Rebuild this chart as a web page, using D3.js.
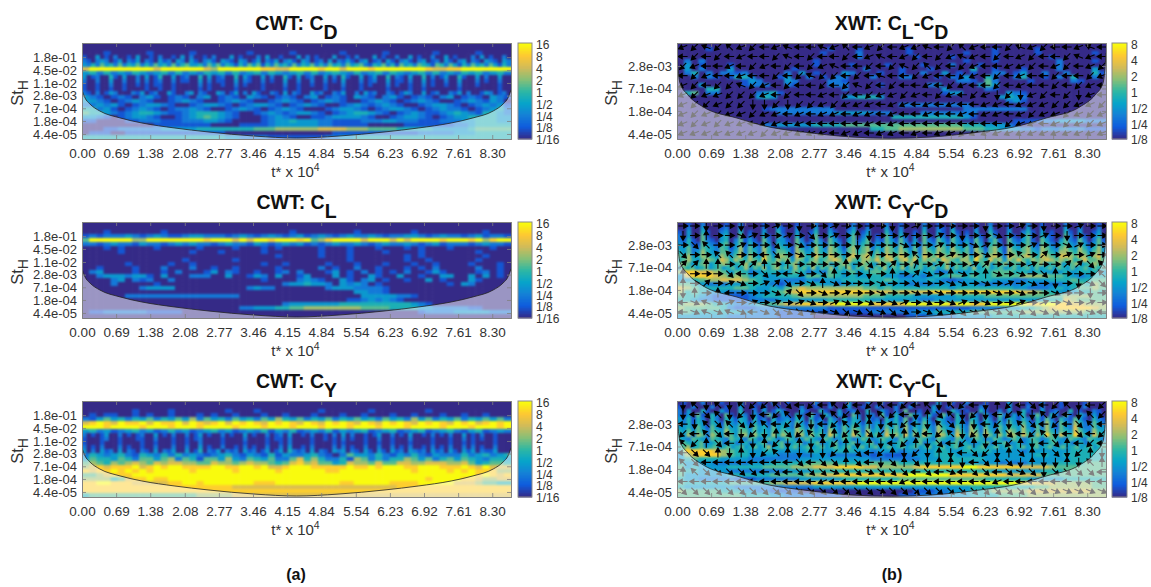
<!DOCTYPE html>
<html>
<head>
<meta charset="utf-8">
<script src="https://cdn.jsdelivr.net/npm/d3@7"></script>
<style>
  html, body { margin: 0; background: #fff; }
  text { font-family: "Liberation Sans", Arial, sans-serif; fill: #333; }
</style>
</head>
<body>
<div id="chart"></div>
<script>
// tick labels
const xTicks = [0.00, 0.69, 1.38, 2.08, 2.77, 3.46, 4.15, 4.84, 5.54, 6.23, 6.92, 7.61, 8.30];
const cwtStTicks = [1.8e-1, 4.5e-2, 1.1e-2, 2.8e-3, 7.1e-4, 1.8e-4, 4.4e-5];
const xwtStTicks = [2.8e-3, 7.1e-4, 1.8e-4, 4.4e-5];
const cwtBarTicks = ['16', '8', '4', '2', '1', '1/2', '1/4', '1/8', '1/16'];
const xwtBarTicks = ['8', '4', '2', '1', '1/2', '1/4', '1/8'];

// cone of influence, t* x 10^4 against St_H
const coiT = [0, 0.06, 0.16, 0.36, 0.77, 1.21, 1.88, 2.55, 3.5, 4.34, 5.18, 6.13, 6.8, 7.47, 7.91, 8.32, 8.52, 8.62, 8.68];
const cwtCoiSt = [5.2e-3, 2.2e-3, 1.13e-3, 5.3e-4, 2.5e-4, 1.45e-4, 8.4e-5, 5.5e-5, 3.5e-5, 2.85e-5, 3.5e-5, 5.5e-5, 8.4e-5, 1.45e-4, 2.5e-4, 5.3e-4, 1.13e-3, 2.2e-3, 5.2e-3];
const xwtCoiT = [0, 0.02, 0.06, 0.22, 0.53, 1.21, 1.88, 2.55, 3.5, 4.34, 5.18, 6.13, 6.8, 7.47, 8.15, 8.46, 8.62, 8.66, 8.68];
const xwtCoiSt = [6.2e-3, 2.5e-3, 9.9e-4, 4.8e-4, 2.3e-4, 1.17e-4, 6.7e-5, 5e-5, 3.7e-5, 3.4e-5, 3.7e-5, 5e-5, 6.7e-5, 1.17e-4, 2.3e-4, 4.8e-4, 9.9e-4, 2.5e-3, 6.2e-3];

// power levels, one digit per cell (0 = bottom of the
// colour bar, 9 = top), one string per row from the top of the plot.
// A row may have any length: busy rows simply carry more cells
const powerCd = [
  '0',
  '0',
  '000100000100000100000001000001000000100000100000010000010000',
  '100301020010300102001030200102000301000203001000302010003001020003010020030100200301000203010020',
  '210232013021302103120320310231032103201302130231032012030213102301203102310230120310230210321032',
  '324253425243524253425245334253524314253514253425243524253425345214352415342543154253142534253142',
  '799999999979999997699999988779999899799989999999877889999999',
  '342423243234242324342423424323424234324234243234242324342342',
  '301200410300203014003012004030120040310030200410301200302041003013004021030040201300410030200300',
  '200200300200202012002011003020110030210020100300200200201030002012003011020030100200300020100200',
  '100100200100101011001000002010010020100010000200100100100020001010002010010020100100200010000100',
  '100100100100001001001000001010000010000010000100100000100010001000001000010010000000100000000100',
  '210201320002130120031002302100320130203100210302100312002130020312002101320030120021302001320120',
  '321012102310121023012103210121023012103210231012102301210321',
  '332101232100123210012321001232101232100123210123210012321320',
  '223231012332100123321012332101232100123212321001233210123231',
  '442310123210122321001232101232100012332101233210123221012342',
  '544321234432112344432100123212332101234432101232112343214432',
  '332101233210012345432100012321001123333210012332101233444433',
  '110000112221112223321000012334333221111222332221112223344433',
  '000000000011111111000011112333333221111100000111111122344444',
  '000112222223333344444444555666666777766655554444433333455555',
  '011100111111111111110000000000000001111111111112222233344444',
  '444444444444444444443322221111111122334444444444444444444444'
];
const powerCl = [
  '0',
  '0',
  '000100000001000000000000000001000000001000000010000000001000',
  '121222321232112332221232123212312321232232122332123221231221',
  '599999966999999998999797998999895689999799979799998999896899',
  '221232213221232322123221321232312123223212322321231222123221',
  '000101000010000010000100010100000100010001000101000100000100',
  '000001000000000100010000010000000100010000100001000000010000',
  '000000000000000000000000000100000100010000000101000000001000',
  '000000000000001000000100000000000000010000000100100000010000',
  '000000100000100100000000010010000010001000100010010000100010',
  '001000010002000200100100000100000201002001000101020000020010',
  '023000010001020001302100100120200013010201010200131000012010',
  '002333233103000222003001320300130003010031003001003300303010',
  '000023021200200000000000010000232100310230100100301000310000',
  '000020000010000000000000000023343320323201000000000103200000',
  '000000002333300000000002322000000023332222100000000000000000',
  '000000000000000000000000000000000000003322100000000000000000',
  '000000222222222222222200000000000000000333332210000000000000',
  '000000000000000000000000000000000000011232321000000000000000',
  '000000000000000000000000000023333333444444444432100000000000',
  '000000000000000000000022333445566666666555544443322222110000',
  '011222222111110000000000000000000000000000000001222233333222',
  '0'
];
const powerCy = [
  '0',
  '0',
  '000000010000100000001000100000000100000010000000100000000000',
  '010110010100100010100100010010001000100100010010001001001000',
  '213534243524353625342534253643524352435342534263524352435352',
  '789879889798897987897989879898798798987987989879898798978989',
  '999899998999899989999899989998999899989998999899998999899989',
  '342312342312423123423123241324123241323412341234123421341232',
  '201013002010120030102002013010020100301002012030010200102030200101300201030010201020030102001000',
  '100012001000110020001001012000010000200001011020000100101020100100200100020000100010020101001000',
  '100010001000010010001001002000010000100001001020000100001010000100100100010000100010010100001000',
  '201020002010010020002002003010020010201002002030010200002020100200200201020010201020020201002000',
  '302031203021021030213003014021302120312013013042120302103230210310310312032120312031031302113000',
  '243234214324242321234213214132234210253324213242132224234234',
  '354435425535625415536325435225746422416524244653524535432443',
  '565465676576776655766567665457867553476657557766777667534554',
  '678788897898998888998899897789998888898898999889998889879777',
  '878898989899999899999899999899999988999999999989999898988866',
  '556788899999999999999999999999999999999999999999999999989878',
  '666645788988999999999999999999999999999999999999899998876677',
  '889988877777889989999999888999999999889999988889999977765544',
  '888888888888888888888777777777777777777777778888888888888888',
  '8',
  '455555555555555566666777777777777777777777777777777777777777'
];
const powerCdl = [
  '0',
  '000010000000000000000100010000001000000000001000001000000000',
  '000000000000000000001000020000001000000010001000001000000010',
  '000000000000000000000000020000000100001000001000000010000000',
  '020200000000000000010000000000000000000010001000000002000010',
  '030100010000000000010000100001000010002000100000000002000000',
  '030200030000000010000000002000010001000004001000100002000030',
  '024020221200000203010003200010010020030101002201300200200041',
  '002021014420001300201022000200022000102130042002400102040020',
  '000000000132000320000221000000000000000221052000010000021000',
  '000300000122200210000222000010000002300000353000000000000000',
  '000044000000000000000002000000000000030000021000000000000000',
  '045022000002341000000000000000000000013300000032100000000000',
  '000000000003430000000003344430000000000000000343200000000000',
  '000000000000000000000000000000000000000000000023100000000000',
  '000000000000000000000000000000022222222220000000000000000000',
  '000000000000122222222200000000000000000022222222200000000000',
  '000000000000002222222233333222000022222222000000000000000000',
  '000000000000000000000000000000444444444431000000000000000000',
  '000000000000000000000000000000000000000000000001111223333222',
  '000000000000223333344445555555555555555544433321000000000000',
  '000000000000000000000000000445566666666655544333221222222111',
  '0',
  '0'
];
const powerCyd = [
  '0010020000100200001002000100020010000200100020010000200100200001002000100020010000200100010',
  '0020030001200300002003100200030020001300200030020000300210300002003000200030020000300200020',
  '1030041002300401003004100300140031002401300041030010400310410103004100300241030100410300130',
  '2030051003400502004105200410150042003502401052041020510420520204105200410351042100520410240',
  '2141052103402513105203310520152053103513502153152030521531531315203510521351053103521520251',
  '3241153214503514215304320531253154204524513254253141532542532415304520532452154214532531352',
  '3352254325413625326415431642364265315635624365364252643653643526415631643563265325643642463',
  '4352364325524625426425541653364365425645635365465352654654654526525641654564365436654653563',
  '5463465436535736437536652764475476536756746476576463765765765637636752765675476547765764674',
  '4564356547646546548546563653564567647546657567467574656476546648547563657546567656564575565',
  '565345634565345645634563456345654634565346543654635463546354635456345635463546345634563456345654',
  '354534534534534635463564536453635463546354635463546354534534635453634534534534535345354353453545',
  '688776535423443354232543534554434434224334445554434333434443',
  '378887656534334443554543433443322323445545445555666655432344',
  '334566777654332222323334444445433334321233443332233344454455',
  '554322233444321233443323343443332222333333222222332222345465',
  '765444445543343567666666665545444444443444444443322234345565',
  '645433322233345678888888888777677778888888888888776543334454',
  '544321111123444456666666665554444333333444455555555555666655',
  '443221111122223333333444444333333322333333333333333344765555',
  '566654432234556778888899999888889999998998899999988998877666',
  '655555421112222222222111111111111111111112222233445678888876',
  '554444444332221111111111111222222333444445555555666666666555',
  '333333322222221111100000000000001112222333334444444444444444'
];
const powerCyl = [
  '0100020001000300010020010000020010003000200100020010000300100200010000300010020001000010000',
  '1002000200100300102001000020010020003001002000200200003001002000210000300020020001000020000',
  '2030041003100400203014200031004100301200400310205001003100420100410020300410030120040100210',
  '2130510420510420310520310420510420310520320510410532041052041052041052031402510420510420310',
  '3241420420431430412041231430412042041430412042415031420431042043042041431420415204215310421',
  '3241430431532431423142342531523143142431423143425142531532143153143142532531426315326421532',
  '3342531532533542534253432642524253253542524253526243532643253264253253543632526315327422533',
  '4353542543643553534353543653534264253652634264536253642653264265264253653642536425437532643',
  '4362652653653663645364653763645375364753745375647364753764375376375364764753648537548643754',
  '4325432543254325423542354235432542354235423543254325432543254235423542354235423543254325432',
  '454345234523423423452345234523452345234523452342345234523452345243234523452342345234523423423454',
  '456345345345345345346345345345345345345345345345345345345345345345345345345345345345345345345345',
  '488887654433443333443344433233323233443344443333233333344444',
  '367888654433332222233222222121112333444333333333334433444444',
  '345444333322222223333333333222222233344444433333333333344444',
  '433332222233344444555544444555544444444433333222233334444555',
  '534333344444555566677788887766666788888899888888777765555555',
  '544333322222222333344444444444444444444444443333333444555555',
  '533333344444455555667788888888889999998888888877777555555555',
  '433222221112222223333334444444455555555555544444433333444444',
  '544444455555566777788888899999999999999999999999887776666655',
  '433333332222222222233333333333333333333334444444445566666655',
  '655555444332211110000000000000000111223334456666677777777766',
  '555555555444433222211110000000011122223334444555566666666666'
];

// phase arrow direction per grid point, hex digit in 22.5 degree steps
// counter-clockwise from east, one string per row from the top
const arrowsCdl = [
  '9a7a69a8978879689a89978a6988a79a88978',
  '8a8a8988a78a88a89789a8a9798a89a88a798',
  'a98898a98a8a9788a8a7a6a8a98899a89a89a',
  '8a988988a8a7aa8a8788a988a98a8988a88a9',
  '9a8aa7a98a88a8a7a8a8898a988a8988a8a98',
  '9a99aaa98a8898a8a99a98a98a9cac9a8ac98',
  '9aa9aaccacaa9a999899898988998999aa99a',
  '9a9a99a99898998998988988989989a99a9a9',
  '9a9a998998988888989888888888a9989a9a9',
  '9999999a9999989989989899a999999999999'
];
const arrowsCyd = [
  '00c00c0010c0010000c0100000c0010c00100',
  'c0400f10010e0104c0010010c00f00010c000',
  '0e600100e0f0000c000f00100f1000100f100',
  'e0066008e0f0000c2000600100f0060201010',
  '2244022404000040e020301001200010022e6',
  '4000e80e08f0e400c0402f04f04f0f0e40006',
  '40201f012e0f4f000f00e00ff0f010f0c0cfe',
  'c4048000f2e0f0100f00f0f0000f0f00f00c0',
  '8f7f1010101f01f0f0f10f0f10f001010f010',
  '8f7f7f8fefef0fefefef0fefefefefefefef8'
];
const arrowsCyl = [
  'c6c6c6aa6e8a86a8a68a86c6a8c4a8e8a6c8a',
  'c8e6cac8a6c8c6a4c6a8c4e6cac8a6c6a8c6a',
  '8c6e6ea68aac8a6a4c8a8c6e4c8ac6e8a8e68',
  'a86e8cac4ea6c4a6eac4e8a6cac4e8a6c8e8a',
  '6a4e84c4ac4c4a4c4c8a4ce8a4c8a4c8e48a8',
  '8ee4c4ca64c4ca4e8a4cac4c8eac4e4ceca4c',
  '6e88888888e8ee4e8ce4ec44c8e4ec4cc4c64',
  '46eeeee8e8eeefeefeee8e8f8ee8efeceeee8',
  '8888888888889888888988888889888888c88',
  'eeeeeeeeeeeeeeeeefeeeeeeeeeeeeeffffff'
];

const W = 1151;
const H = 587;
const plotW = 429;
const plotH = 96;
const nRows = 24;

// parula, sampled
const parula = ['#352a87', '#0f5cdd', '#1481d6', '#06a4ca', '#2eb7a4', '#87bf77', '#d1bb59', '#fec832', '#f9fb0e'];
const parulaAt = d3.piecewise(d3.interpolateRgb, parula);

const svg = d3.select('#chart').append('svg')
    .attr('width', W)
    .attr('height', H);

const defs = svg.append('defs');
defs.append('filter')
    .attr('id', 'soft')
    .attr('x', '-5%').attr('y', '-5%').attr('width', '110%').attr('height', '110%')
    .attr('color-interpolation-filters', 'sRGB')
    .append('feGaussianBlur')
    .attr('stdDeviation', '1.1 1.2');

const arrowPath = 'M-4.6,0L2,0M0.8,-2.3L4.8,0L0.8,2.3Z';

function drawPanel(p, i) {
    const g = svg.append('g').attr('transform', `translate(${p.x},${p.y})`);
    const xScale = d3.scaleLinear().domain([0, 8.68]).range([0, plotW]);
    const yScale = d3.scaleLog().domain(p.stDomain).range([0, plotH]);
    const rowScale = d3.scaleBand().domain(d3.range(nRows)).range([0, plotH]);
    const log2 = Math.log2(p.barMax);
    const level = d3.scaleLinear().domain([0, 9]).range([-log2, log2]);   // digit -> log2 power
    const colour = d3.scaleLinear().domain([-log2, log2]).range([0, 1]);

    const clipId = `clip${i}`;
    defs.append('clipPath').attr('id', clipId)
        .append('rect').attr('width', plotW).attr('height', plotH);

    const plot = g.append('g').attr('clip-path', `url(#${clipId})`);
    const cells = plot.append('g').attr('filter', 'url(#soft)');
    p.power.forEach((row, r) => {
        const digits = row.split('').map(Number);
        const colScale = d3.scaleBand().domain(d3.range(digits.length)).range([0, plotW]);
        cells.selectAll(`.r${r}`)
            .data(digits)
            .enter()
            .append('rect')
            .attr('x', (d, c) => colScale(c) - (c === 0 ? 10 : 0))
            .attr('y', rowScale(r) - (r === 0 ? 10 : 0))
            .attr('width', (d, c) => colScale.bandwidth() + (c === 0 ? 10 : 0) + (c === digits.length - 1 ? 10 : 0.5))
            .attr('height', rowScale.bandwidth() + (r === 0 || r === nRows - 1 ? 10 : 0.5))
            .attr('fill', (d) => parulaAt(colour(level(d))));
    });

    // phase arrows go under the shading, so they turn grey in there
    if (p.arrows) {
        const ax = d3.scalePoint().domain(d3.range(37)).range([6, plotW - 4]);
        const ay = d3.scalePoint().domain(d3.range(10)).range([4, plotH - 6]);
        p.arrows.forEach((row, r) => {
            plot.selectAll(`.a${r}`)
                .data(row.split('').map((h) => parseInt(h, 16) * 22.5))
                .enter()
                .append('path')
                .attr('d', arrowPath)
                .attr('transform', (d, c) => `translate(${ax(c)},${ay(r)}) rotate(${-d})`)
                .attr('fill', '#000')
                .attr('stroke', '#000')
                .attr('stroke-width', 1.1);
        });
    }

    // cone of influence
    const coi = p.coiT.map((t, k) => [t, p.coiSt[k]]);
    plot.append('path')
        .datum(coi)
        .attr('d', d3.area()
            .x((d) => xScale(d[0]))
            .y0(plotH + 2)
            .y1((d) => yScale(d[1]))
            .curve(d3.curveMonotoneX))
        .attr('fill', '#fff')
        .attr('fill-opacity', 0.5);
    plot.append('path')
        .datum(coi)
        .attr('d', d3.line()
            .x((d) => xScale(d[0]))
            .y((d) => yScale(d[1]))
            .curve(d3.curveMonotoneX))
        .attr('fill', 'none')
        .attr('stroke', '#222')
        .attr('stroke-width', 0.8);

    // axes, ticks inward on all sides
    const sci = (v) => v.toExponential(1).replace(/e-(\d)$/, 'e-0$1');
    const xBottom = d3.axisBottom(xScale).tickValues(xTicks).tickFormat(d3.format('.2f')).tickSize(-4).tickPadding(9);
    const xTop = d3.axisTop(xScale).tickValues(xTicks).tickFormat('').tickSize(-4);
    const yLeft = d3.axisLeft(yScale).tickValues(p.stTicks).tickFormat(sci).tickSize(-4).tickPadding(5);
    const yRight = d3.axisRight(yScale).tickValues(p.stTicks).tickFormat('').tickSize(-4);
    g.append('g').attr('transform', `translate(0,${plotH})`).call(xBottom).call(styleAxis, 13.5);
    g.append('g').call(xTop).call(styleAxis, 13.5);
    g.append('g').call(yLeft).call(styleAxis, 13);
    g.append('g').attr('transform', `translate(${plotW},0)`).call(yRight).call(styleAxis, 13.5);

    // labels
    const title = g.append('text')
        .attr('x', plotW / 2)
        .attr('y', -13)
        .attr('text-anchor', 'middle')
        .style('font-size', '19.5px')
        .style('font-weight', 'bold')
        .style('fill', '#111');
    p.title.forEach((s, k) => {
        const dy = k === 0 ? 0 : (k % 2 ? 8.5 : -8.5);
        title.append('tspan').attr('dy', dy).text(s);
    });

    const xl = g.append('text')
        .attr('x', plotW / 2 - 1)
        .attr('y', plotH + 38)
        .attr('text-anchor', 'middle')
        .style('font-size', '15px');
    xl.append('tspan').text('t* x 10');
    xl.append('tspan').attr('dy', -6).style('font-size', '10.5px').text('4');

    const yl = g.append('text')
        .attr('transform', `translate(${p.yLabelX},${plotH / 2 + 2}) rotate(-90)`)
        .attr('text-anchor', 'middle')
        .style('font-size', '16.5px');
    yl.append('tspan').text('St');
    yl.append('tspan').attr('dy', 5).style('font-size', '14px').text('H');

    // colour bar
    const barX = plotW + p.barGap;
    const barW = p.barW;
    const bar = g.append('g').attr('transform', `translate(${barX},0)`);
    const barScale = d3.scaleBand().domain(d3.range(64)).range([plotH, 0]);
    bar.selectAll('rect')
        .data(d3.range(64))
        .enter()
        .append('rect')
        .attr('y', (d) => barScale(d))
        .attr('width', barW)
        .attr('height', barScale.bandwidth() + 0.5)
        .attr('fill', (d) => parulaAt(d / 63));
    bar.append('rect')
        .attr('width', barW)
        .attr('height', plotH)
        .attr('fill', 'none')
        .attr('stroke', '#8a8a8a');
    const barAxis = d3.axisRight(d3.scalePoint().domain(p.barTicks).range([2, plotH + 1])).tickSize(0).tickPadding(4);
    bar.append('g').attr('transform', `translate(${barW},0)`).call(barAxis).call(styleAxis, 12)
        .select('.domain').remove();
}

function styleAxis(sel, size) {
    sel.select('.domain').attr('stroke', '#808080').attr('stroke-width', 1);
    sel.selectAll('.tick line').attr('stroke', '#808080').attr('stroke-width', 0.8);
    sel.selectAll('.tick text')
        .style('font-family', '"Liberation Sans", Arial, sans-serif')
        .style('font-size', `${size}px`)
        .style('fill', '#333');
}

const cwtBase = {
    stDomain: [0.83, 2.56e-5], stTicks: cwtStTicks, coiT: coiT, coiSt: cwtCoiSt,
    barMax: 16, barTicks: cwtBarTicks, barGap: 7, barW: 14, yLabelX: -59
};
const xwtBase = {
    stDomain: [1.14e-2, 3.25e-5], stTicks: xwtStTicks, coiT: xwtCoiT, coiSt: xwtCoiSt,
    barMax: 8, barTicks: xwtBarTicks, barGap: 6, barW: 15, yLabelX: -60
};

const panels = [
    { ...cwtBase, x: 82, y: 43, title: ['CWT: C', 'D'], power: powerCd },
    { ...cwtBase, x: 82, y: 222, title: ['CWT: C', 'L'], power: powerCl },
    { ...cwtBase, x: 82, y: 401, title: ['CWT: C', 'Y'], power: powerCy },
    { ...xwtBase, x: 677, y: 43, title: ['XWT: C', 'L', '-C', 'D'], power: powerCdl, arrows: arrowsCdl },
    { ...xwtBase, x: 677, y: 222, title: ['XWT: C', 'Y', '-C', 'D'], power: powerCyd, arrows: arrowsCyd },
    { ...xwtBase, x: 677, y: 401, title: ['XWT: C', 'Y', '-C', 'L'], power: powerCyl, arrows: arrowsCyl }
];
panels.forEach(drawPanel);

svg.selectAll('.caption')
    .data([['(a)', 296], ['(b)', 892]])
    .enter()
    .append('text')
    .attr('class', 'caption')
    .attr('x', (d) => d[1])
    .attr('y', 580)
    .attr('text-anchor', 'middle')
    .style('font-size', '16px')
    .style('font-weight', 'bold')
    .style('fill', '#111')
    .text((d) => d[0]);
</script>
</body>
</html>
